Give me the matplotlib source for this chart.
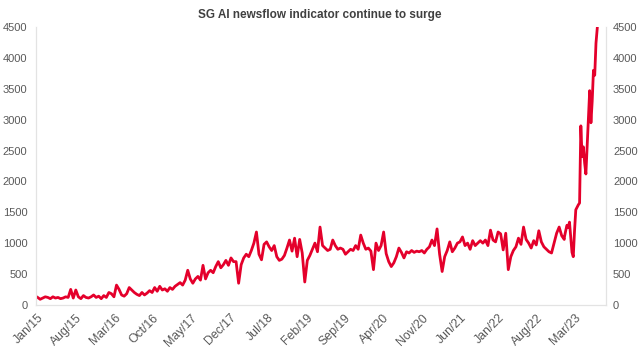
import matplotlib.pyplot as plt
import matplotlib.dates as mdates
import pandas as pd

plt.rcParams["font.family"] = ["Liberation Sans", "DejaVu Sans"]

# biweekly readings 2015-2022, weekly readings for 2023
vals_2015 = [120, 90, 110, 130, 120, 100, 130, 110, 120, 100, 110, 130, 120,
             250, 110, 240, 130, 100, 150, 120, 110, 130, 160, 120, 140, 100]
vals_2016 = [150, 120, 200, 180, 130, 320, 250, 160, 140, 180, 280, 240, 200,
             170, 150, 200, 160, 190, 230, 200, 280, 220, 300, 240, 260, 220]
vals_2017 = [280, 250, 300, 330, 360, 320, 400, 560, 420, 350, 420, 460, 400,
             640, 420, 520, 560, 520, 620, 700, 600, 650, 720, 640, 760, 700]
vals_2018 = [700, 350, 650, 760, 820, 780, 880, 1000, 1180, 820, 730, 980, 1020,
             940, 880, 960, 780, 720, 740, 800, 920, 1050, 870, 1080, 780, 1060]
vals_2019 = [840, 370, 720, 800, 900, 1000, 860, 1260, 960, 920, 880, 900, 1050,
             960, 900, 920, 900, 820, 860, 900, 880, 960, 900, 1130, 1000, 900]
vals_2020 = [920, 870, 570, 1000, 880, 960, 1180, 830, 700, 620, 680, 780, 920,
             850, 760, 860, 840, 880, 850, 870, 860, 880, 840, 900, 940, 1050]
vals_2021 = [960, 1230, 820, 540, 780, 880, 1020, 860, 920, 1000, 1020, 1100, 960,
             1000, 900, 1040, 960, 1000, 1040, 1000, 1050, 960, 1210, 1050, 1020, 1180]
vals_2022 = [1150, 890, 1160, 570, 780, 880, 940, 1080, 980, 1260, 1060, 1000, 920,
             1040, 970, 1200, 1020, 940, 900, 860, 840, 1000, 1160, 1260, 1120, 1060]
vals_2023 = [1100, 1200, 1290, 1250, 1340, 1100, 850, 780, 1200, 1540, 1580, 1620,
             1650, 2900, 2400, 2560, 2300, 2120, 2560, 3000, 3470, 2950, 3300, 3800,
             3720, 4240, 4480]

biweekly = (vals_2015 + vals_2016 + vals_2017 + vals_2018 + vals_2019
            + vals_2020 + vals_2021 + vals_2022)
dates_bw = pd.date_range("2015-01-01", "2022-12-31", periods=len(biweekly))
dates_w = pd.date_range("2023-01-01", periods=len(vals_2023), freq="7D")

dates = list(dates_bw) + list(dates_w)
values = biweekly + vals_2023

tick_dates = pd.date_range("2015-01-01", periods=15, freq="7MS")
y_ticks = [0, 500, 1000, 1500, 2000, 2500, 3000, 3500, 4000, 4500]

grey = "#595959"
spine_col = "#e3e3e3"

fig = plt.figure(figsize=(6.4, 3.52), dpi=100)
ax = fig.add_axes([0.056, 0.134, 0.891, 0.789])
ax.plot(dates, values, color="#E4002B", lw=2)

ax.set_xlim(pd.Timestamp("2014-12-22"), pd.Timestamp("2023-08-20"))
ax.set_ylim(0, 4500)
ax.set_yticks(y_ticks)
ax.set_xticks(tick_dates)
ax.xaxis.set_major_formatter(mdates.DateFormatter("%b/%y"))

ax.spines["top"].set_visible(False)
for s in ["left", "right", "bottom"]:
    ax.spines[s].set_color(spine_col)
ax.tick_params(axis="both", colors=spine_col, labelcolor=grey, labelsize=8, length=0)
ax.tick_params(axis="y", pad=6)
ax.tick_params(axis="x", pad=5, labelsize=8.8)
plt.setp(ax.get_xticklabels(), rotation=45, ha="right", rotation_mode="anchor")

ax2 = ax.twinx()
ax2.set_ylim(0, 4500)
ax2.set_yticks(y_ticks)
ax2.spines["top"].set_visible(False)
for s in ["left", "right", "bottom"]:
    ax2.spines[s].set_color(spine_col)
ax2.tick_params(axis="y", colors=spine_col, labelcolor=grey, labelsize=8, length=0, pad=5)

fig.suptitle("SG AI newsflow indicator continue to surge", x=0.5, y=0.975,
             fontsize=8.5, fontweight="bold", color="#404040")

fig.savefig("out.png", dpi=100)
